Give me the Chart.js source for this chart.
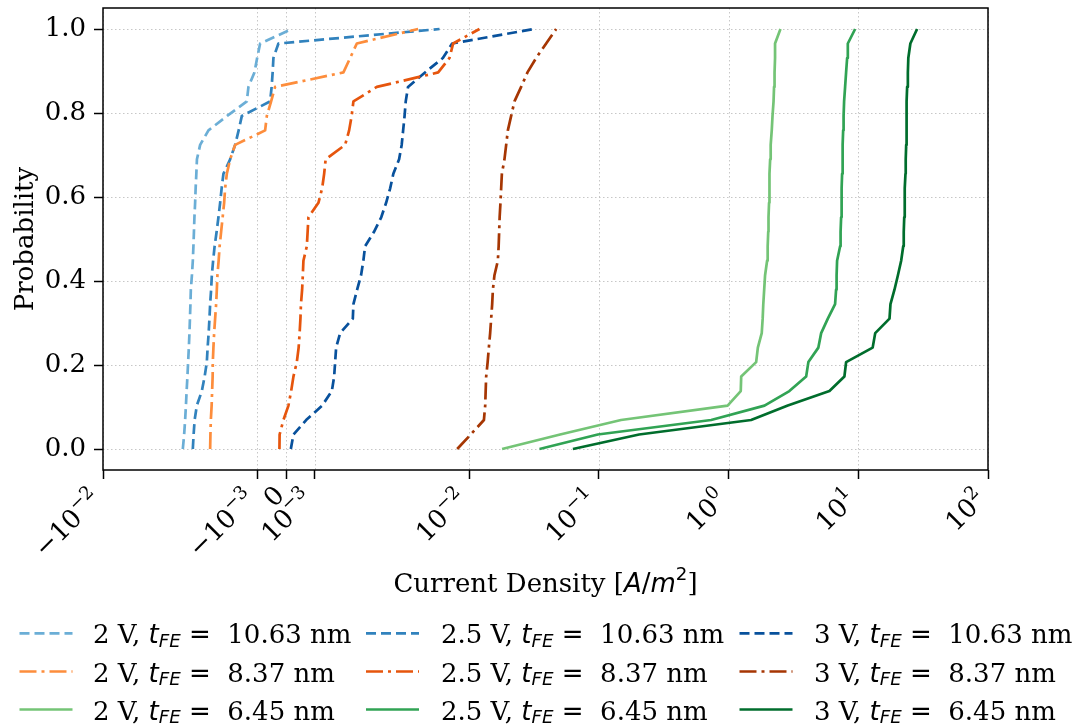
<!DOCTYPE html>
<html>
<head>
<meta charset="utf-8">
<script src="https://cdn.jsdelivr.net/npm/chart.js@4.4.0/dist/chart.umd.min.js"></script>
<style>
  html, body { margin: 0; padding: 0; background: #fff; }
  #wrap { width: 1078px; height: 726px; }
</style>
</head>
<body>
<div id="wrap"><canvas id="canvas" width="1078" height="726"></canvas></div>
<script>
// cumulative probability (one point per device, 30 devices)
const probability = [0, 0.0345, 0.069, 0.1034, 0.1379, 0.1724, 0.2069, 0.2414, 0.2759, 0.3103,
  0.3448, 0.3793, 0.4138, 0.4483, 0.4828, 0.5172, 0.5517, 0.5862, 0.6207, 0.6552,
  0.6897, 0.7241, 0.7586, 0.7931, 0.8276, 0.8621, 0.8966, 0.9310, 0.9655, 1.0];

// current density [A/m^2], tFE = 10.63 nm
const j2V_1063 = [-3.585e-3, -3.539e-3, -3.505e-3, -3.477e-3, -3.453e-3, -3.425e-3, -3.401e-3, -3.376e-3, -3.355e-3, -3.338e-3,
  -3.321e-3, -3.307e-3, -3.269e-3, -3.238e-3, -3.217e-3, -3.199e-3, -3.182e-3, -3.158e-3, -3.140e-3, -3.116e-3,
  -3.095e-3, -2.984e-3, -2.696e-3, -2.047e-3, -1.364e-3, -1.308e-3, -1.100e-3, -1.006e-3, -9.02e-4, 1.98e-4];
const j25V_1063 = [-3.238e-3, -3.210e-3, -3.175e-3, -3.099e-3, -2.925e-3, -2.828e-3, -2.752e-3, -2.724e-3, -2.689e-3, -2.661e-3,
  -2.637e-3, -2.603e-3, -2.578e-3, -2.533e-3, -2.481e-3, -2.412e-3, -2.349e-3, -2.290e-3, -2.238e-3, -2.176e-3,
  -1.943e-3, -1.770e-3, -1.648e-3, -1.537e-3, -5.55e-4, -5.03e-4, -4.68e-4, -4.41e-4, -2.67e-4, 5.90e-3];
const j3V_1063 = [1.63e-4, 2.53e-4, 6.94e-4, 1.249e-3, 1.586e-3, 1.666e-3, 1.70e-3, 1.735e-3, 1.874e-3, 2.314e-3,
  2.335e-3, 2.464e-3, 2.60e-3, 2.68e-3, 2.74e-3, 3.05e-3, 3.30e-3, 3.47e-3, 3.61e-3, 3.72e-3,
  3.92e-3, 4.01e-3, 4.06e-3, 4.11e-3, 4.15e-3, 4.23e-3, 4.82e-3, 6.26e-3, 7.38e-3, 0.0317];

// tFE = 8.37 nm
const j2V_837 = [-2.637e-3, -2.627e-3, -2.613e-3, -2.585e-3, -2.568e-3, -2.550e-3, -2.544e-3, -2.523e-3, -2.498e-3, -2.464e-3,
  -2.429e-3, -2.405e-3, -2.384e-3, -2.342e-3, -2.308e-3, -2.256e-3, -2.203e-3, -2.151e-3, -2.117e-3, -2.058e-3,
  -1.943e-3, -1.770e-3, -7.29e-4, -6.70e-4, -5.21e-4, -3.82e-4, 1.988e-3, 2.221e-3, 2.453e-3, 4.580e-3];
const j25V_837 = [-2.32e-4, -2.26e-4, -9.4e-5, 8.0e-5, 1.74e-4, 2.53e-4, 3.71e-4, 4.34e-4, 4.68e-4, 4.96e-4,
  5.14e-4, 5.55e-4, 5.79e-4, 6.0e-4, 7.18e-4, 7.46e-4, 7.74e-4, 1.121e-3, 1.249e-3, 1.319e-3,
  1.371e-3, 2.047e-3, 2.186e-3, 2.273e-3, 2.335e-3, 3.147e-3, 5.76e-3, 7.04e-3, 7.51e-3, 0.01199];
const j3V_837 = [0.00807, 0.01026, 0.01297, 0.01327, 0.01338, 0.0135, 0.01386, 0.01416, 0.01449, 0.01475,
  0.01502, 0.01521, 0.01564, 0.01661, 0.01685, 0.0170, 0.01715, 0.0174, 0.01762, 0.01784,
  0.01868, 0.01926, 0.01984, 0.02104, 0.02231, 0.02512, 0.0281, 0.03279, 0.03917, 0.04677];

// tFE = 6.45 nm
const j2V_645 = [0.0179, 0.0502, 0.148, 0.982, 1.24, 1.25, 1.63, 1.68, 1.80, 1.83,
  1.85, 1.88, 1.91, 1.98, 2.00, 2.02, 2.03, 2.05, 2.06, 2.07,
  2.09, 2.11, 2.15, 2.18, 2.22, 2.24, 2.26, 2.28, 2.28, 2.51];
const j25V_645 = [0.0348, 0.098, 0.733, 1.89, 2.94, 3.96, 4.12, 4.92, 5.17, 5.82,
  6.62, 6.74, 6.80, 6.86, 7.24, 7.30, 7.37, 7.41, 7.46, 7.50,
  7.54, 7.60, 7.64, 7.70, 7.77, 7.91, 8.05, 8.20, 8.30, 9.45];
const j3V_645 = [0.063, 0.204, 1.49, 2.86, 5.99, 7.81, 8.05, 12.9, 13.5, 17.4,
  17.7, 19.0, 20.2, 21.4, 22.2, 22.4, 22.6, 22.7, 22.9, 23.1,
  23.2, 23.4, 23.5, 23.5, 23.7, 23.8, 24.1, 24.3, 25.2, 28.4];

// x ticks: value, mantissa text, exponent text
const xTickValues = [-1e-2, -1e-3, 0, 1e-3, 1e-2, 1e-1, 1, 10, 100];
const xTickBase = ['\u221210', '\u221210', '0', '10', '10', '10', '10', '10', '10'];
const xTickExp = ['\u22122', '\u22123', '', '\u22123', '\u22122', '\u22121', '0', '1', '2'];
const yTickValues = [0, 0.2, 0.4, 0.6, 0.8, 1.0];

const voltages = ['2 V', '2.5 V', '3 V'];
const thicknesses = ['10.63', '8.37', '6.45'];

// symmetric log scale (linthresh 5e-3, linscale 1)
const LINTHRESH = 0.005;
const LINSCALE_ADJ = 1 / (1 - 1 / 10);
function symlog(v) {
  const a = Math.abs(v);
  if (a <= LINTHRESH) return v * LINSCALE_ADJ / LINTHRESH;
  return Math.sign(v) * (LINSCALE_ADJ + Math.log10(a / LINTHRESH));
}
function symexp(t) {
  const a = Math.abs(t);
  if (a <= LINSCALE_ADJ) return t * LINTHRESH / LINSCALE_ADJ;
  return Math.sign(t) * LINTHRESH * Math.pow(10, a - LINSCALE_ADJ);
}

class SymlogScale extends Chart.Scale {
  determineDataLimits() {
    this.min = this.options.min;
    this.max = this.options.max;
  }
  buildTicks() {
    return xTickValues.map(v => ({ value: v }));
  }
  getLabelForValue(v) { return String(v); }
  configure() {
    super.configure();
    this._tMin = symlog(this.min);
    this._tMax = symlog(this.max);
  }
  getPixelForValue(v) {
    return this.getPixelForDecimal((symlog(v) - this._tMin) / (this._tMax - this._tMin));
  }
  getValueForPixel(p) {
    return symexp(this._tMin + this.getDecimalForPixel(p) * (this._tMax - this._tMin));
  }
}
SymlogScale.id = 'symlog';
SymlogScale.defaults = {};
Chart.register(SymlogScale);

const DASHED = [10, 5];
const DASHDOT = [17, 5, 3, 5];

// plotted in the same order the legend is read (column by column)
const series = [
  { v: 0, t: 0, values: j2V_1063, color: '#6baed6', dash: DASHED },
  { v: 0, t: 1, values: j2V_837, color: '#fd8d3c', dash: DASHDOT },
  { v: 0, t: 2, values: j2V_645, color: '#74c476', dash: [] },
  { v: 1, t: 0, values: j25V_1063, color: '#3182bd', dash: DASHED },
  { v: 1, t: 1, values: j25V_837, color: '#e6550d', dash: DASHDOT },
  { v: 1, t: 2, values: j25V_645, color: '#31a354', dash: [] },
  { v: 2, t: 0, values: j3V_1063, color: '#08519c', dash: DASHED },
  { v: 2, t: 1, values: j3V_837, color: '#a63603', dash: DASHDOT },
  { v: 2, t: 2, values: j3V_645, color: '#006d2c', dash: [] }
];

const LW = 2.7;
const SERIF = '"DejaVu Serif", serif';
const SANS = '"DejaVu Sans", sans-serif';
const FS = 26;
const SUB = FS * 0.7;

function drawRuns(ctx, x, y, runs) {
  for (const r of runs) {
    ctx.font = r.font;
    ctx.fillText(r.text, x, y + (r.dy || 0));
    x += ctx.measureText(r.text).width;
  }
  return x;
}
function runsWidth(ctx, runs) {
  let w = 0;
  for (const r of runs) { ctx.font = r.font; w += ctx.measureText(r.text).width; }
  return w;
}

const decorations = {
  id: 'decorations',
  beforeDatasetsDraw(chart) {
    // dotted grid
    const { ctx, chartArea: a, scales } = chart;
    ctx.save();
    ctx.strokeStyle = 'rgba(180,180,180,0.75)';
    ctx.lineWidth = 1;
    ctx.setLineDash([1.5, 2.5]);
    ctx.beginPath();
    scales.x.ticks.forEach(t => {
      const px = Math.round(scales.x.getPixelForValue(t.value)) + 0.5;
      ctx.moveTo(px, a.top); ctx.lineTo(px, a.bottom);
    });
    scales.y.ticks.forEach(t => {
      const py = Math.round(scales.y.getPixelForValue(t.value)) + 0.5;
      ctx.moveTo(a.left, py); ctx.lineTo(a.right, py);
    });
    ctx.stroke();
    ctx.restore();
  },
  afterDatasetsDraw(chart) {
    const { ctx, chartArea: a } = chart;
    ctx.save();
    ctx.strokeStyle = '#000';
    ctx.lineWidth = 1.5;
    ctx.strokeRect(a.left, a.top, a.right - a.left, a.bottom - a.top);
    ctx.restore();
  },
  afterDraw(chart) {
    const { ctx, chartArea: a, scales } = chart;
    ctx.save();
    ctx.fillStyle = '#000';
    ctx.textBaseline = 'alphabetic';
    ctx.textAlign = 'left';

    // x tick labels, rotated 45 degrees, top-right corner at the tick
    const y0 = a.bottom + 13;
    scales.x.ticks.forEach((t, i) => {
      const px = scales.x.getPixelForValue(t.value);
      const runs = [{ text: xTickBase[i], font: FS + 'px ' + SERIF }];
      if (xTickExp[i]) runs.push({ text: xTickExp[i], font: SUB + 'px ' + SERIF, dy: -11 });
      const w = runsWidth(ctx, runs);
      const asc = xTickExp[i] ? 25 : 19;
      ctx.save();
      ctx.translate(px - 0.5, y0 + asc * Math.SQRT1_2);
      ctx.rotate(-Math.PI / 4);
      drawRuns(ctx, -w, 0, runs);
      ctx.restore();
    });

    // y axis title
    ctx.save();
    ctx.translate(33, (a.top + a.bottom) / 2);
    ctx.rotate(-Math.PI / 2);
    ctx.font = FS + 'px ' + SERIF;
    ctx.textAlign = 'center';
    ctx.fillText('Probability', 0, 0);
    ctx.restore();

    // x axis title
    const xRuns = [
      { text: 'Current Density [', font: FS + 'px ' + SERIF },
      { text: 'A', font: 'italic ' + FS + 'px ' + SANS },
      { text: '/', font: FS + 'px ' + SANS },
      { text: 'm', font: 'italic ' + FS + 'px ' + SANS },
      { text: '2', font: SUB + 'px ' + SANS, dy: -12 },
      { text: ']', font: FS + 'px ' + SERIF }
    ];
    const xw = runsWidth(ctx, xRuns);
    drawRuns(ctx, (a.left + a.right) / 2 - xw / 2, 592, xRuns);

    // legend, 3 columns read top to bottom
    const handleX = [19.5, 366, 739.5];
    const textX = [93, 441, 814];
    const rowY = [643.3, 681.5, 719.5];
    series.forEach((s, k) => {
      const col = Math.floor(k / 3), row = k % 3;
      const y = rowY[row];
      ctx.save();
      ctx.strokeStyle = s.color;
      ctx.lineWidth = LW;
      ctx.setLineDash(s.dash);
      ctx.beginPath();
      ctx.moveTo(handleX[col], y - 10);
      ctx.lineTo(handleX[col] + 53, y - 10);
      ctx.stroke();
      ctx.restore();
      drawRuns(ctx, textX[col], y, [
        { text: voltages[s.v] + ', ', font: FS + 'px ' + SERIF },
        { text: 't', font: 'italic ' + FS + 'px ' + SANS },
        { text: 'FE', font: 'italic ' + SUB + 'px ' + SANS, dy: 3.5 },
        { text: ' = ', font: FS + 'px ' + SANS },
        { text: ' ' + thicknesses[s.t] + ' nm', font: FS + 'px ' + SERIF }
      ]);
    });
    ctx.restore();
  }
};

const tickMarks = {
  display: true,
  drawOnChartArea: false,
  drawTicks: true,
  color: '#000',
  tickColor: '#000',
  tickWidth: 1.5,
  tickLength: 9
};

const chart = new Chart(document.getElementById('canvas'), {
  type: 'line',
  data: {
    datasets: series.map(s => ({
      label: voltages[s.v] + ', tFE = ' + thicknesses[s.t] + ' nm',
      data: probability.map((p, i) => ({ x: s.values[i], y: p })),
      borderColor: s.color,
      backgroundColor: s.color,
      borderWidth: LW,
      borderDash: s.dash,
      borderCapStyle: 'butt',
      borderJoinStyle: 'round',
      pointRadius: 0,
      tension: 0,
      fill: false
    }))
  },
  options: {
    responsive: false,
    animation: false,
    events: [],
    layout: { padding: { top: 8, right: 90, bottom: 0, left: 0 } },
    plugins: { legend: { display: false }, tooltip: { enabled: false } },
    scales: {
      x: {
        type: 'symlog',
        min: -1e-2,
        max: 100,
        grid: tickMarks,
        border: { display: false },
        ticks: { display: false, autoSkip: false },
        afterFit: s => { s.height = 256; s.paddingLeft = 0; s.paddingRight = 0; }
      },
      y: {
        type: 'linear',
        min: -0.05,
        max: 1.05,
        grid: tickMarks,
        border: { display: false },
        afterBuildTicks: s => { s.ticks = yTickValues.map(v => ({ value: v })); },
        ticks: {
          padding: 8,
          color: '#000',
          font: { family: 'DejaVu Serif', size: FS },
          callback: v => v.toFixed(1)
        },
        afterFit: s => { s.width = 103; s.paddingTop = 0; s.paddingBottom = 0; }
      }
    }
  },
  plugins: [decorations]
});
</script>
</body>
</html>
